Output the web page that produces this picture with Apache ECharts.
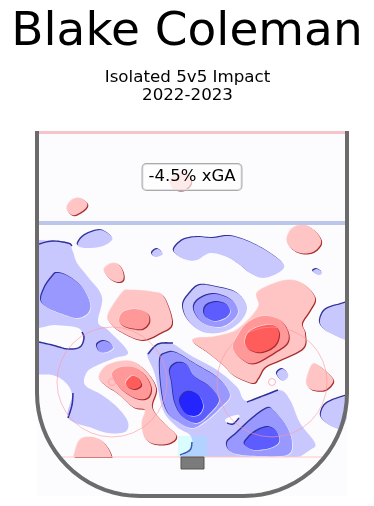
<!DOCTYPE html>
<html><head><meta charset="utf-8">
<style>html,body{margin:0;padding:0;background:#fff}#c{width:374px;height:506px}</style>
<script src="https://cdn.jsdelivr.net/npm/echarts@6/dist/echarts.min.js"></script>
</head><body><div id="c"></div>
<script>
// Rink-plane contour outlines (rink units: across the ice 0-310, from centre line 0-364)
const titleText = "Blake Coleman";
const subtitleText = "Isolated 5v5 Impact\n2022-2023";
const impactLabel = "-4.5% xGA";

const leftZoneBlue = [[-6,112],[15,109],[31,111],[36,120],[40,131],[51,145],[65,165],[61,190],[71,198],[91,220],[78,226],[61,233],[50,240],[48,253],[65,263],[81,276],[91,290],[88,300],[71,301],[55,296],[31,286],[35,263],[28,250],[15,243],[-6,241],[-6,225],[-6,209],[15,214],[31,217],[43,215],[46,205],[41,196],[18,193],[-6,193],[-6,150]];
const leftZoneBlue2 = [[20,141],[31,144],[45,155],[53,171],[51,181],[41,186],[28,183],[11,176],[4,168],[8,155],[15,145]];
const leftDot = [[60,213],[66,209],[73,211],[76,216],[70,220],[63,220]];
const upperLeftBlue = [[41,111],[48,103],[63,98],[73,103],[75,108],[66,114],[53,116],[43,115]];
const tinyBlue1 = [[115,121],[120,117],[125,120],[125,123],[118,125]];
const archBlue = [[137,117],[146,108],[160,105],[176,106],[193,104],[213,110],[233,121],[247,133],[241,141],[226,146],[213,141],[203,133],[190,125],[173,121],[160,128],[150,128],[140,123]];
const eyeBlue1 = [[146,173],[153,161],[163,153],[180,155],[200,161],[210,175],[203,190],[186,200],[166,200],[151,188]];
const eyeBlue2 = [[157,178],[161,168],[176,162],[193,167],[201,178],[196,188],[183,195],[166,191]];
const eyeBlue3 = [[167,180],[170,173],[180,170],[190,173],[193,180],[188,186],[178,189],[170,186]];
const slotBlue1 = [[111,220],[123,211],[136,212],[153,223],[180,238],[200,255],[210,269],[241,258],[253,268],[263,291],[278,311],[273,318],[253,328],[220,328],[186,328],[143,328],[148,321],[155,313],[153,303],[140,295],[126,278],[118,243],[111,226]];
const slotBlue2 = [[123,228],[130,221],[140,221],[160,233],[181,246],[193,263],[183,276],[170,288],[156,296],[143,291],[131,281],[125,261]];
const slotBlue3 = [[133,238],[140,231],[150,233],[158,245],[173,255],[182,268],[173,281],[160,291],[146,285],[138,271],[135,251]];
const slotBlue4 = [[143,268],[148,261],[155,260],[163,265],[166,275],[161,283],[151,283],[145,276]];
const slotHole = [[188,288],[195,284],[202,283],[201,287],[193,292]];
const lowRightBlue2 = [[190,311],[200,301],[216,286],[231,276],[238,280],[250,295],[255,311],[250,323],[220,324],[196,321]];
const lowRightBlue3 = [[208,310],[218,300],[231,295],[240,300],[242,310],[233,316],[218,318],[210,315]];
const circleBlue = [[240,241],[245,237],[250,240],[251,245],[246,249],[242,246]];
const boardBlueLow = [[284,281],[290,271],[308,264],[316,264],[312,280],[305,296],[296,295],[286,288]];
const boardBlueHigh = [[283,188],[288,178],[301,173],[315,173],[315,207],[293,201],[285,195]];
const tinyBlue2 = [[276,139],[280,137],[285,140],[283,143],[279,142]];

const neutralRed1 = [[30,75],[35,68],[43,66],[50,71],[48,77],[38,83],[32,81]];
const neutralRed2 = [[133,49],[141,41],[151,42],[154,51],[147,58],[137,57]];
const sideRed = [[67,138],[73,132],[81,132],[86,140],[86,148],[80,150],[72,146]];
const topRightRed = [[250,106],[256,96],[268,93],[280,101],[284,111],[276,120],[263,121],[253,115]];
const midRed1 = [[71,183],[85,161],[93,158],[116,160],[127,165],[135,191],[123,201],[105,208],[86,201],[75,193]];
const midRed2 = [[82,188],[86,180],[98,177],[110,181],[112,190],[105,197],[93,196],[85,193]];
const rightRed1 = [[156,210],[160,206],[176,205],[196,200],[206,193],[216,183],[222,173],[220,161],[236,152],[253,148],[268,153],[278,166],[273,178],[265,191],[268,201],[266,216],[243,228],[228,235],[221,246],[215,251],[196,243],[186,233],[170,220]];
const rightRed2 = [[196,216],[201,203],[210,191],[226,184],[243,188],[251,200],[250,211],[238,220],[218,231],[206,228]];
const rightRed3 = [[208,211],[211,201],[221,195],[236,193],[242,201],[238,213],[225,220],[213,218]];
const rightSmallRed = [[270,246],[275,233],[281,233],[293,243],[296,250],[288,258],[276,258],[270,253]];
const leftRed1 = [[62,245],[71,233],[93,229],[108,238],[119,256],[115,275],[126,290],[139,303],[133,311],[118,312],[108,306],[105,291],[108,278],[96,275],[80,261],[68,253]];
const leftRed2 = [[75,243],[81,236],[96,235],[108,243],[114,256],[110,266],[98,266],[83,256]];
const leftRed3 = [[89,250],[95,244],[101,246],[104,253],[98,257],[91,255]];
const lowLeftRed = [[38,320],[43,308],[53,305],[65,309],[73,320],[73,329],[55,329],[38,329]];

const edgeLeft1 = [[2,112],[15,109],[31,111],[35,114]];
const edgeLeft2 = [[2,210],[15,213],[31,217],[43,215],[47,206],[45,200]];
const edgeLeft3 = [[36,261],[35,273],[31,286]];
const edgeSlotTop = [[111,222],[121,212],[136,211]];
const edgeCrease = [[155,310],[153,318],[143,323]];
const edgeRight = [[210,270],[223,265],[241,258]];
const edgeHole = [[190,291],[196,292],[202,286]];

const creaseArea = [[141,304],[170,304],[170,325],[141,325]];
const goalBox = [[144,325],[167,325],[167,337],[144,337]];
const faceoffCentres = [[75,250],[235,250]];
const rinkWidth = 310, rinkLength = 364, cornerRadius = 103, goalLineAt = 325;

const fills = {b1:'#c8c8ff',b2:'#9898ff',b3:'#5c5cff',b4:'#2424ff',r1:'#ffc4c4',r2:'#ff9898',r3:'#ff5c5c',w:'#fcfcff'};
const contourLayers = [
  [leftZoneBlue,'b1',0],[leftZoneBlue2,'b2',1],[leftDot,'b2',1],[upperLeftBlue,'b1',1],[tinyBlue1,'b1',1],[archBlue,'b1',1],
  [eyeBlue1,'b1',1],[eyeBlue2,'b2',1],[eyeBlue3,'b3',1],
  [slotBlue1,'b1',0],[slotBlue2,'b2',1],[slotBlue3,'b3',1],[slotBlue4,'b4',1],[slotHole,'w',0],
  [lowRightBlue2,'b2',1],[lowRightBlue3,'b3',1],[circleBlue,'b1',1],[boardBlueLow,'b1',1],[boardBlueHigh,'b1',1],[tinyBlue2,'b1',1],
  [neutralRed1,'r1',1],[neutralRed2,'r1',1],[sideRed,'r1',1],[topRightRed,'r1',1],[midRed1,'r1',1],[midRed2,'r2',1],
  [rightRed1,'r1',1],[rightRed2,'r2',1],[rightRed3,'r3',1],[rightSmallRed,'r1',1],
  [leftRed1,'r1',1],[leftRed2,'r2',1],[leftRed3,'r3',1],[lowLeftRed,'r1',1]
];
const edgeLayers = [edgeLeft1,edgeLeft2,edgeLeft3,edgeSlotTop,edgeCrease,edgeRight,edgeHole];

const chart = echarts.init(document.getElementById('c'), null, {renderer:'canvas'});

function mapPts(api, pts, dx, dy){ return pts.map(p => api.coord([p[0]+(dx||0), p[1]+(dy||0)])); }

// Catmull-Rom curve through the outline points (screen space), so outlines draw as smooth contours
function spline(p, closed){
  const n = p.length, out = [];
  const at = i => closed ? p[(i+n)%n] : p[Math.max(0,Math.min(n-1,i))];
  const last = closed ? n : n-1;
  for (let i=0;i<last;i++){
    const a=at(i-1), b=at(i), c=at(i+1), d=at(i+2);
    for (let k=0;k<8;k++){
      const t=k/8, t2=t*t, t3=t2*t;
      out.push([0,1].map(j=>0.5*(2*b[j]+(c[j]-a[j])*t+(2*a[j]-5*b[j]+4*c[j]-d[j])*t2+(3*b[j]-a[j]-3*c[j]+d[j])*t3)));
    }
  }
  if (!closed) out.push(p[n-1]);
  return out;
}

function renderContour(params, api){
  const [pts, key, shadow] = contourLayers[params.dataIndex];
  const isBlue = key[0]==='b';
  const limit = api.coord([0,goalLineAt])[1];
  const children = [];
  const poly = (dx,dy,fill) => ({type:'polygon', shape:{points:spline(mapPts(api,pts),true).map(q=>[q[0]+dx,Math.min(q[1],limit)+dy])}, style:{fill}});
  if (shadow){
    const s = isBlue ? -1 : 1;
    children.push(poly(-s*0.6,-s*0.6, isBlue ? 'rgba(252,252,255,0.8)' : '#ffd8d8'));
    children.push(poly(s*1,s*1, isBlue ? '#30309c' : '#a82c2c'));
  }
  children.push(poly(0,0,fills[key]));
  return {type:'group', children};
}

function renderEdge(params, api){
  return {type:'polyline', shape:{points:spline(mapPts(api,edgeLayers[params.dataIndex]),false)},
    style:{stroke:'#30309c', fill:null, lineWidth:1.5}};
}

function boardPoints(api){
  const pts = [[0,-1],[0,rinkLength-cornerRadius]];
  for (let a=5;a<=90;a+=5){ const t=a*Math.PI/180;
    pts.push([cornerRadius-cornerRadius*Math.cos(t), rinkLength-cornerRadius+cornerRadius*Math.sin(t)]); }
  for (let a=90;a>=0;a-=5){ const t=a*Math.PI/180;
    pts.push([rinkWidth-cornerRadius+cornerRadius*Math.cos(t), rinkLength-cornerRadius+cornerRadius*Math.sin(t)]); }
  pts.push([rinkWidth,-1]);
  return mapPts(api,pts);
}

function renderMarkings(params, api){
  const unit = api.size([1,0])[0];
  const line = (a,b,stroke,w)=>({type:'line', shape:{x1:api.coord(a)[0],y1:api.coord(a)[1],x2:api.coord(b)[0],y2:api.coord(b)[1]}, style:{stroke,lineWidth:w}});
  const kids = [
    {type:'polygon', shape:{points:mapPts(api,creaseArea)}, style:{fill:'rgba(90,255,255,0.2)'}},
    line([0,0.5],[rinkWidth,0.5],'#f4c6cc',3),
    line([0,91],[rinkWidth,91],'#bcc6ea',4),
    line([24,goalLineAt],[286,goalLineAt],'#ffc6c6',1)
  ];
  faceoffCentres.forEach(c=>{
    const p = api.coord(c);
    kids.push({type:'circle', shape:{cx:p[0],cy:p[1],r:55*unit}, style:{fill:null,stroke:'rgba(255,150,160,0.6)',lineWidth:1}});
    kids.push({type:'circle', shape:{cx:p[0],cy:p[1],r:3.5*unit}, style:{fill:null,stroke:'rgba(255,150,160,0.7)',lineWidth:1}});
  });
  kids.push({type:'polygon', shape:{points:mapPts(api,goalBox)}, style:{fill:'#7b7b7b',stroke:'#555555',lineWidth:1}});
  kids.push({type:'polyline', shape:{points:boardPoints(api)}, style:{fill:null,stroke:'#6b6b6b',lineWidth:4}});
  return {type:'group', children:kids};
}

chart.setOption({
  animation:false,
  backgroundColor:'#ffffff',
  title:[
    {text:titleText,left:187,top:9,padding:0,textAlign:'center',textStyle:{fontFamily:'DejaVu Sans',fontSize:47,fontWeight:'normal',color:'#000'}},
    {text:subtitleText,left:187.5,top:69,padding:0,textAlign:'center',textStyle:{fontFamily:'DejaVu Sans',fontSize:16.7,fontWeight:'normal',color:'#000',lineHeight:18,align:'center'}}
  ],
  grid:{left:37,top:132,width:310,height:364},
  xAxis:{type:'value',min:0,max:rinkWidth,show:false},
  yAxis:{type:'value',min:0,max:rinkLength,inverse:true,show:false},
  series:[
    {type:'custom',coordinateSystem:'cartesian2d',silent:true,clip:false,z:1,data:[[0,0]],
      renderItem:(p,api)=>({type:'polygon',shape:{points:mapPts(api,[[0,0],[rinkWidth,0],[rinkWidth,rinkLength],[0,rinkLength]])},style:{fill:'#fcfcff'}})},
    {type:'custom',coordinateSystem:'cartesian2d',silent:true,clip:true,z:2,
      data:contourLayers.map((l,i)=>[l[0][0][0],l[0][0][1]]),renderItem:renderContour},
    {type:'custom',coordinateSystem:'cartesian2d',silent:true,clip:true,z:3,
      data:edgeLayers.map(e=>[e[0][0],e[0][1]]),renderItem:renderEdge},
    {type:'custom',coordinateSystem:'cartesian2d',silent:true,clip:false,z:4,data:[[0,0]],renderItem:renderMarkings},
    {type:'scatter',silent:true,z:5,symbolSize:0,itemStyle:{opacity:1},data:[[155,45]],
      label:{show:true,position:'inside',formatter:impactLabel,fontFamily:'DejaVu Sans',fontSize:16.5,color:'#000',
        backgroundColor:'rgba(255,255,255,0.65)',borderColor:'#aaaaaa',borderWidth:1,borderRadius:4,padding:[5,6,4,6]}}
  ]
});
</script></body></html>
